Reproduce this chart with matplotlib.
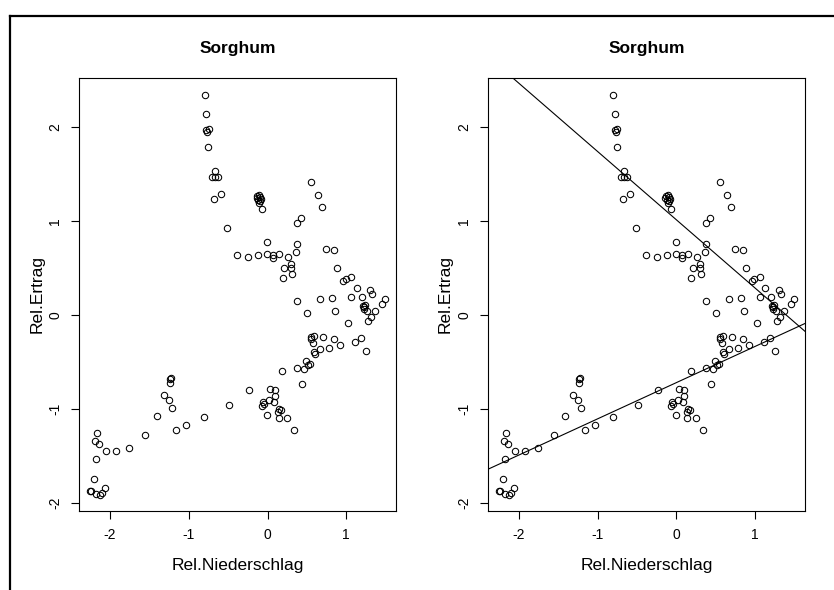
import matplotlib
matplotlib.use('Agg')
import matplotlib.pyplot as plt
from matplotlib.lines import Line2D

plt.rcParams['font.family'] = ['Liberation Sans', 'DejaVu Sans']

# Relative precipitation / relative yield
rel_niederschlag = [
    -0.80, -0.785, -0.78, -0.75, -0.77, -0.756, -0.667, -0.705, -0.663, -0.629,
    -0.587, -0.676, -0.51, -0.39, -0.248, -0.12, -0.01, -0.01, 0.066, 0.066,
    0.142, 0.265, 0.37, 0.366, 0.30, 0.205, 0.295, 0.307, 0.19,
    -0.13, -0.11, -0.14, -0.10, -0.12, -0.08, -0.09, -0.11, -0.074,
    0.55, 0.64, 0.69, 0.43, 0.38, 0.74, 0.84, 0.883, 0.963, 0.99,
    1.06, 1.13, 1.30, 1.33, 1.49, 1.065, 1.20, 0.82, 0.67, 0.38,
    0.50, 0.854, 1.02, 1.21, 1.23, 1.22, 1.24, 1.26, 1.37, 1.31,
    1.28, 1.45, 0.556, 0.59, 0.55, 0.574, 0.71, 0.845, 0.92, 0.78,
    0.667, 0.587, 0.60, 1.11, 1.19, 1.25, 0.49, 0.515, 0.54, 0.37,
    0.46, 0.184, 0.44, -0.235, 0.03, 0.10, 0.09, 0.08, 0.015, -0.06,
    -0.045, -0.07, -0.006, 0.146, 0.168, 0.133, 0.14, 0.244, 0.34,
    -1.235, -1.226, -1.243, -1.315, -1.255, -1.21, -1.41, -0.49, -0.807, -1.04,
    -1.163, -1.56, -1.756, -1.925, -2.05, -2.17, -2.19, -2.14, -2.175, -2.20,
    -2.245, -2.25, -2.18, -2.125, -2.10, -2.065,
]
rel_ertrag = [
    2.34, 2.14, 1.97, 1.98, 1.94, 1.79, 1.535, 1.465, 1.465, 1.465,
    1.28, 1.23, 0.925, 0.64, 0.62, 0.635, 0.78, 0.65, 0.635, 0.606,
    0.65, 0.62, 0.75, 0.667, 0.546, 0.50, 0.50, 0.43, 0.39,
    1.26, 1.27, 1.24, 1.25, 1.22, 1.23, 1.21, 1.19, 1.13,
    1.41, 1.27, 1.15, 1.03, 0.98, 0.70, 0.69, 0.50, 0.355, 0.38,
    0.40, 0.287, 0.266, 0.22, 0.17, 0.195, 0.19, 0.18, 0.17, 0.145,
    0.02, 0.04, -0.085, 0.09, 0.08, 0.06, 0.10, 0.04, 0.04, -0.02,
    -0.06, 0.12, -0.237, -0.22, -0.26, -0.30, -0.237, -0.26, -0.32, -0.355,
    -0.36, -0.39, -0.42, -0.29, -0.245, -0.38, -0.49, -0.53, -0.52, -0.57,
    -0.575, -0.596, -0.73, -0.80, -0.79, -0.795, -0.865, -0.925, -0.91, -0.925,
    -0.95, -0.97, -1.07, -1.0, -1.01, -1.035, -1.10, -1.10, -1.22,
    -0.68, -0.67, -0.72, -0.85, -0.91, -0.99, -1.075, -0.954, -1.09, -1.17,
    -1.227, -1.277, -1.42, -1.45, -1.45, -1.255, -1.34, -1.37, -1.53, -1.745,
    -1.875, -1.87, -1.90, -1.92, -1.89, -1.84,
]

# two fitted lines in the right panel (intercept, slope)
line_intercepts = [1.01, -0.72]
line_slopes = [-0.726, 0.385]

titel = 'Sorghum'
x_label = 'Rel.Niederschlag'
y_label = 'Rel.Ertrag'
x_ticks = [-2, -1, 0, 1]
y_ticks = [-2, -1, 0, 1, 2]

fig = plt.figure(figsize=(8.34, 5.90), dpi=100)

# outer frame (only left and top edge visible)
fig.add_artist(Line2D([0.012, 0.012], [0, 0.973], transform=fig.transFigure, color='black', lw=1.6))
fig.add_artist(Line2D([0.012, 1.0], [0.973, 0.973], transform=fig.transFigure, color='black', lw=1.6))


def panel(left, with_lines):
    ax = fig.add_axes([left, 0.134, 0.380, 0.734])
    ax.plot(rel_niederschlag, rel_ertrag, 'o', mfc='none', mec='black', ms=4.6, mew=0.75)
    ax.set_xlim(-2.395, 1.63)
    ax.set_ylim(-2.085, 2.52)
    if with_lines:
        for a, b in zip(line_intercepts, line_slopes):
            ax.axline((0, a), slope=b, color='black', lw=0.8)
    ax.set_xticks(x_ticks)
    ax.set_yticks(y_ticks)
    ax.set_xticklabels([str(t) for t in x_ticks], fontsize=10)
    ax.set_yticklabels([str(t) for t in y_ticks], fontsize=10, rotation=90, va='center')
    ax.tick_params(direction='out', length=6, width=0.8, pad=6)
    for s in ax.spines.values():
        s.set_linewidth(0.8)
    ax.set_title(titel, fontsize=12.5, fontweight='bold', pad=18)
    ax.set_xlabel(x_label, fontsize=12.5, labelpad=12)
    ax.set_ylabel(y_label, fontsize=12.5, labelpad=3)
    return ax


panel(0.0947, False)
panel(0.585, True)

plt.savefig('out.png', dpi=100)
